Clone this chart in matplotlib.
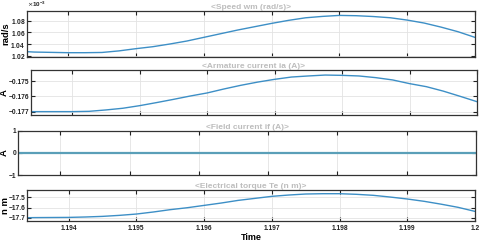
import matplotlib
matplotlib.use("Agg")
import matplotlib.pyplot as plt
from matplotlib.ticker import ScalarFormatter, FixedLocator

# ---- data ----
time = [1.19339, 1.1935, 1.194, 1.19425, 1.1945, 1.19475, 1.195, 1.19525, 1.1955,
        1.19575, 1.196, 1.19625, 1.1965, 1.19675, 1.197, 1.19725, 1.1975, 1.19775,
        1.198, 1.19825, 1.1985, 1.19875, 1.199, 1.19925, 1.1995, 1.19975, 1.2]
speed = [1.0269e-3, 1.0262e-3, 1.0251e-3, 1.0251e-3, 1.0255e-3, 1.0282e-3, 1.0320e-3,
         1.0354e-3, 1.0400e-3, 1.0451e-3, 1.0514e-3, 1.0577e-3, 1.0640e-3, 1.0697e-3,
         1.0754e-3, 1.0806e-3, 1.0850e-3, 1.0874e-3, 1.0891e-3, 1.0886e-3, 1.0872e-3,
         1.0851e-3, 1.0811e-3, 1.0760e-3, 1.0690e-3, 1.0611e-3, 1.0514e-3]
ia = [-0.17700, -0.17700, -0.17700, -0.17698, -0.17689, -0.17678, -0.17661, -0.17641,
      -0.17620, -0.17598, -0.17578, -0.17552, -0.17528, -0.17507, -0.17489, -0.17474,
      -0.17467, -0.17461, -0.17463, -0.17467, -0.17478, -0.17493, -0.17517, -0.17537,
      -0.17566, -0.17600, -0.17635]
i_f = [0.0] * len(time)
te = [-17.700, -17.699, -17.697, -17.693, -17.687, -17.677, -17.664, -17.644, -17.621,
      -17.602, -17.579, -17.556, -17.530, -17.510, -17.490, -17.477, -17.467, -17.464,
      -17.464, -17.470, -17.480, -17.497, -17.516, -17.539, -17.567, -17.598, -17.638]

titles = ["<Speed wm (rad/s)>", "<Armature current ia (A)>",
          "<Field current if (A)>", "<Electrical torque Te (n m)>"]
ylabels = ["rad/s", "A", "A", "n m"]
series = [speed, ia, i_f, te]
ylims = [(1.0172e-3, 1.0972e-3), (-0.17722, -0.17430), (-1, 1), (-17.7295, -17.4246)]
yticks = [[1.02e-3, 1.04e-3, 1.06e-3, 1.08e-3], [-0.177, -0.176, -0.175], [-1, 0, 1],
          [-17.7, -17.6, -17.5]]
xticks = [1.194, 1.195, 1.196, 1.197, 1.198, 1.199, 1.2]
xticklabels = ["1.194", "1.195", "1.196", "1.197", "1.198", "1.199", "1.2"]

W, H = 480, 242
# pixel boxes: left, right, top, bottom
boxes = [(26.7, 475, 10.7, 57.3), (31, 477, 70.3, 115), (18, 476, 130.7, 175),
         (27.3, 475, 189.7, 220.7)]
label_px = [10, 9, 9, 9.5]

plt.rcParams["font.family"] = ["Liberation Sans", "DejaVu Sans"]
fig = plt.figure(figsize=(4.8, 2.42), dpi=100)
fig.patch.set_facecolor("white")
line_color = "#3d8fc6"
for i in range(4):
    l, r, t, b = boxes[i]
    ax = fig.add_axes([l / W, 1 - b / H, (r - l) / W, (b - t) / H])
    lw = 1.6 if i == 2 else 1.0
    c = "#5a9fb8" if i == 2 else line_color
    ax.plot(time, series[i], color=c, lw=lw)
    ax.set_xlim(1.19339, 1.2)
    ax.set_ylim(*ylims[i])
    ax.yaxis.set_major_locator(FixedLocator(yticks[i]))
    ax.set_xticks(xticks)
    ax.grid(True, color="#e3e3e3", lw=0.6)
    ax.tick_params(direction="in", length=3, width=0.8, top=True, right=True,
                   labelsize=4.8, pad=1.0, colors="#222222")
    for lab in ax.get_yticklabels():
        lab.set_fontweight("bold")
    if i == 3:
        ax.set_xticklabels(xticklabels, fontweight="bold")
        ax.tick_params(axis="x", pad=3)
        ax.set_xlabel("Time", fontsize=6.5, fontweight="bold", labelpad=1)
    else:
        ax.set_xticklabels([])
    if i == 0:
        fmt = ScalarFormatter(useMathText=True)
        fmt.set_powerlimits((-2, 2))
        ax.yaxis.set_major_formatter(fmt)
        ax.yaxis.get_offset_text().set_fontsize(4.5)
        ax.yaxis.get_offset_text().set_fontweight("bold")
    for s in ax.spines.values():
        s.set_color("#333333")
        s.set_linewidth(0.9)
    ax.set_ylabel(ylabels[i], fontsize=6.8, fontweight="bold")
    ax.yaxis.set_label_coords((label_px[i] - l) / (r - l), 0.5)
    ax.set_title(titles[i], fontsize=6, fontweight="bold", color="#bdbdbd", pad=1.5)

fig.savefig("out.png", dpi=100, facecolor="white")
